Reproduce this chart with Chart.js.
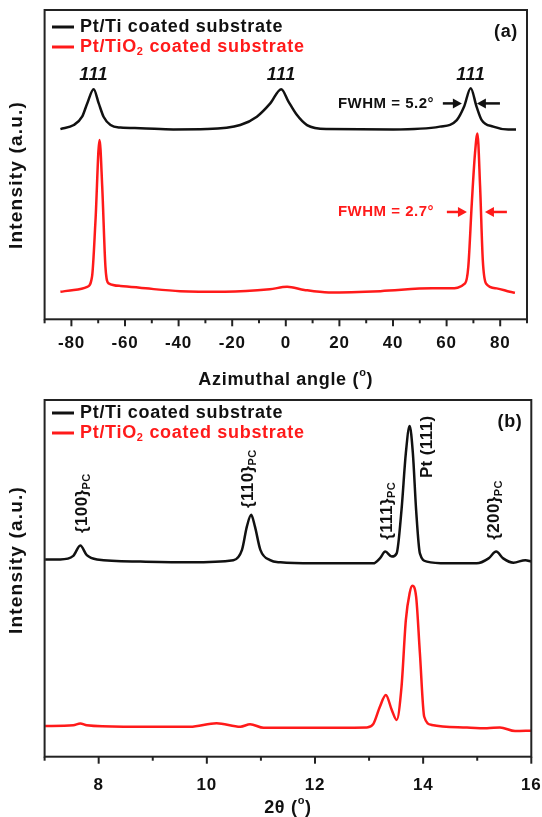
<!DOCTYPE html>
<html>
<head>
<meta charset="utf-8">
<script src="https://cdn.jsdelivr.net/npm/chart.js@4"></script>
<style>
  html, body { margin: 0; padding: 0; background: #fff; }
  #wrap { position: relative; width: 542px; height: 817px; overflow: hidden; }
  #chart-a { position: absolute; left: 0; top: 0; }
  #chart-b { position: absolute; left: 0; top: 395px; }
</style>
</head>
<body>
<div id="wrap">
  <canvas id="chart-a" width="542" height="395"></canvas>
  <canvas id="chart-b" width="542" height="422"></canvas>
</div>
<script>
// (a) azimuthal scans
const angleTi = [-84.1, -79.1, -76.0, -74.1, -71.7, -69.8, -68.0, -65.4, -61.7, -54.3,
  -42.0, -29.4, -17.0, -10.8, -5.8, -1.7, 1.0, 4.1, 7.9, 15.3,
  40.1, 57.5, 63.8, 66.5, 69.0, 71.2, 73.1, 77.4, 83.0, 85.9];
const intensityTi = [61.5, 62.8, 65.5, 69.8, 74.4, 69.8, 65.5, 62.8, 62.0, 61.8,
  61.4, 61.5, 62.8, 65.5, 69.8, 74.4, 70.4, 66.1, 62.8, 61.5,
  61.4, 62.3, 64.4, 68.7, 74.7, 68.7, 64.4, 62.3, 61.4, 61.4];
const angleTiO2 = [-84.1, -79.1, -74.1, -72.3, -71.0, -69.5, -68.5, -67.3, -66.1, -61.7,
  -52.3, -39.4, -22.7, -6.0, 0.5, 6.9, 16.0, 35.3, 54.6, 61.3,
  66.9, 68.1, 69.4, 70.6, 71.5, 72.5, 73.5, 74.7, 78.7, 83.6, 85.5];
const intensityTiO2 = [8.9, 9.5, 10.5, 13.8, 32.1, 58.0, 42.9, 17.0, 11.6, 10.8,
  10.0, 9.1, 8.9, 9.7, 10.5, 9.5, 8.7, 9.1, 10.0, 10.0,
  11.6, 17.0, 37.5, 53.7, 60.1, 42.9, 19.2, 11.6, 10.0, 8.9, 8.6];

// (b) 2theta scans
const twoThetaTi = [7.01, 7.29, 7.53, 7.66, 7.78, 7.97, 8.77, 9.69, 10.49, 10.65,
  10.74, 10.82, 10.89, 10.99, 11.17, 11.36, 11.97, 13.08, 13.20, 13.30,
  13.42, 13.51, 13.60, 13.68, 13.75, 13.81, 13.87, 13.94, 14.07, 14.44,
  14.99, 15.21, 15.35, 15.48, 15.67, 15.89, 16.0];
const xrdTi = [55.3, 55.3, 56.3, 59.2, 56.5, 55.3, 54.7, 54.5, 55.1, 58.0,
  64.5, 67.8, 64.5, 58.0, 55.1, 54.5, 54.2, 54.2, 55.6, 57.5,
  56.1, 57.0, 69.2, 85.1, 92.7, 85.1, 69.2, 57.0, 54.7, 54.2,
  54.2, 55.6, 57.5, 55.6, 54.4, 55.1, 54.7];
const twoThetaTiO2 = [7.01, 7.53, 7.66, 7.78, 8.46, 9.69, 10.18, 10.62, 10.80, 11.05,
  11.72, 12.96, 13.08, 13.20, 13.31, 13.42, 13.51, 13.60, 13.68, 13.75,
  13.80, 13.87, 13.94, 14.02, 14.16, 14.81, 15.18, 15.42, 15.70, 16.0];
const xrdTiO2 = [8.6, 8.8, 9.3, 8.8, 8.4, 8.4, 9.4, 8.4, 9.1, 8.1,
  8.1, 8.2, 9.2, 14.0, 17.3, 13.1, 10.3, 19.6, 38.3, 45.8,
  47.9, 44.9, 29.0, 11.2, 8.9, 8.2, 8.0, 8.2, 7.2, 7.3];

const seriesNames = ['Pt/Ti coated substrate', 'Pt/TiO_{2} coated substrate'];
const peakHkl = ['111', '111', '111'];
const peakAngle = [-71.7, -1.7, 69.0];
const xrdLabels = ['{100}_{PC}', '{110}_{PC}', '{111}_{PC}', 'Pt (111)', '{200}_{PC}'];
const xrdLabelPos = [7.69, 10.76, 13.33, 14.07, 15.31];
const xrdLabelBase = [62.7, 69.7, 60.8, 78.1, 60.8];

const BLACK = '#111111';
const RED = '#ff1a1a';
const FONT = '"Liberation Sans", Arial, sans-serif';
Chart.defaults.font.family = FONT;

// texto com _{sub} e ^{sup}
function parse(s) {
  const out = [];
  const re = /([_^])\{([^}]*)\}/g;
  let last = 0, m;
  while ((m = re.exec(s))) {
    if (m.index > last) out.push({ t: s.slice(last, m.index) });
    out.push({ t: m[2], sub: m[1] === '_', sup: m[1] === '^' });
    last = re.lastIndex;
  }
  if (last < s.length) out.push({ t: s.slice(last) });
  return out;
}
function fontFor(p, size, style) {
  const sz = (p.sub || p.sup) ? Math.round(size * 0.62) : size;
  return `${style} ${sz}px ${FONT}`;
}
function drawRich(ctx, str, x, y, size, color, align, style, ls = 0.7) {
  const parts = parse(str);
  ctx.letterSpacing = ls + 'px';
  let w = 0;
  parts.forEach(p => { ctx.font = fontFor(p, size, style); w += ctx.measureText(p.t).width; });
  let cx = align === 'center' ? x - w / 2 : align === 'right' ? x - w : x;
  ctx.fillStyle = color;
  ctx.textAlign = 'left';
  ctx.textBaseline = 'middle';
  parts.forEach(p => {
    ctx.font = fontFor(p, size, style);
    const dy = p.sub ? size * 0.3 : p.sup ? -size * 0.38 : 0;
    ctx.fillText(p.t, cx, y + dy);
    cx += ctx.measureText(p.t).width;
  });
  ctx.letterSpacing = '0px';
}
function arrow(ctx, x1, x2, y, color) {
  const dir = Math.sign(x2 - x1);
  ctx.strokeStyle = color; ctx.fillStyle = color; ctx.lineWidth = 2.5;
  ctx.beginPath(); ctx.moveTo(x1, y); ctx.lineTo(x2 - dir * 6, y); ctx.stroke();
  ctx.beginPath();
  ctx.moveTo(x2, y); ctx.lineTo(x2 - dir * 9, y - 5); ctx.lineTo(x2 - dir * 9, y + 5);
  ctx.closePath(); ctx.fill();
}

// moldura, ticks, legenda, títulos e anotações
const decor = {
  id: 'decor',
  beforeDraw(chart) { chart.ctx.letterSpacing = '0.8px'; },
  afterDraw(chart, args, o) {
    const { ctx, chartArea: a, scales: { x, y } } = chart;
    ctx.save();
    ctx.letterSpacing = '0px';
    ctx.strokeStyle = '#222'; ctx.lineWidth = 2;
    ctx.strokeRect(a.left, a.top, a.right - a.left, a.bottom - a.top);
    x.ticks.forEach(t => {
      const px = x.getPixelForValue(t.value);
      const len = t.label === '' ? 4 : 7;
      ctx.beginPath(); ctx.moveTo(px, a.bottom); ctx.lineTo(px, a.bottom + len); ctx.stroke();
    });

    chart.data.datasets.forEach((ds, i) => {
      const ly = o.legendY[i];
      ctx.strokeStyle = ds.borderColor; ctx.lineWidth = 3;
      ctx.beginPath(); ctx.moveTo(52, ly); ctx.lineTo(74, ly); ctx.stroke();
      drawRich(ctx, ds.label, 80, ly, 18, ds.borderColor, 'left', 'bold');
    });
    drawRich(ctx, o.tag.text, o.tag.x, o.tag.y, 18, BLACK, 'center', 'bold');

    ctx.save();
    ctx.translate(o.yTitle.x, o.yTitle.y); ctx.rotate(-Math.PI / 2);
    drawRich(ctx, o.yTitle.text, 0, 0, 19, BLACK, 'center', 'bold', 1.2);
    ctx.restore();
    drawRich(ctx, o.xTitle.text, (a.left + a.right) / 2, o.xTitle.y, 18, BLACK, 'center', 'bold');

    (o.labels || []).forEach(l => {
      const px = x.getPixelForValue(l.x), py = y.getPixelForValue(l.y);
      const style = l.italic ? 'italic bold' : 'bold';
      if (l.rotate) {
        ctx.save();
        ctx.translate(px, py); ctx.rotate(-Math.PI / 2);
        drawRich(ctx, l.text, 0, 0, l.size, l.color, 'left', style, 0.4);
        ctx.restore();
      } else {
        drawRich(ctx, l.text, px, py, l.size, l.color, l.align, style, 0.5);
      }
    });
    (o.arrows || []).forEach(r => {
      arrow(ctx, x.getPixelForValue(r.from), x.getPixelForValue(r.to), y.getPixelForValue(r.y), r.color);
    });
    ctx.restore();
  }
};

function toPoints(xs, ys) { return xs.map((v, i) => ({ x: v, y: ys[i] })); }

function lineSet(label, xs, ys, color) {
  return {
    label, data: toPoints(xs, ys), borderColor: color, borderWidth: 2.5,
    pointRadius: 0, fill: false, cubicInterpolationMode: 'monotone'
  };
}

function baseOptions({ xmin, xmax, step, major, gap, axisH, padTop, padRight, decorOpts }) {
  return {
    responsive: false, animation: false,
    layout: { padding: { top: padTop, right: padRight, left: 0, bottom: 0 } },
    plugins: { legend: { display: false }, tooltip: { enabled: false }, decor: decorOpts },
    scales: {
      x: {
        type: 'linear', min: xmin, max: xmax,
        grid: { display: false, drawTicks: true, tickLength: gap }, border: { display: false },
        ticks: {
          stepSize: step, autoSkip: false, maxRotation: 0, padding: 1, color: BLACK,
          font: { size: 17, weight: 'bold' },
          callback: v => (Math.round(v / major) * major === v ? v : '')
        },
        afterFit: s => { s.height = axisH; }
      },
      y: {
        min: 0, max: 100,
        grid: { display: false, drawTicks: false }, border: { display: false },
        ticks: { display: false },
        afterFit: s => { s.width = 44.6; }
      }
    }
  };
}

new Chart(document.getElementById('chart-a'), {
  type: 'line',
  data: { datasets: [
    lineSet(seriesNames[0], angleTi, intensityTi, BLACK),
    lineSet(seriesNames[1], angleTiO2, intensityTiO2, RED)
  ] },
  options: baseOptions({
    xmin: -90, xmax: 90, step: 10, major: 20, gap: 12.5, axisH: 75.7, padTop: 10, padRight: 15,
    decorOpts: {
      legendY: [27, 47],
      tag: { text: '(a)', x: 506, y: 32 },
      yTitle: { text: 'Intensity (a.u.)', x: 17, y: 175 },
      xTitle: { text: 'Azimuthal angle (^{o})', y: 380 },
      labels: peakHkl.map((t, i) => ({ text: t, x: peakAngle[i], y: 79, size: 18, italic: true, color: BLACK, align: 'center' }))
        .concat([
          { text: 'FWHM = 5.2°', x: 55.3, y: 69.8, size: 15, color: BLACK, align: 'right' },
          { text: 'FWHM = 2.7°', x: 55.3, y: 34.7, size: 15, color: RED, align: 'right' }
        ]),
      arrows: [
        { from: 58.6, to: 65.7, y: 69.8, color: BLACK },
        { from: 79.9, to: 71.3, y: 69.8, color: BLACK },
        { from: 60.1, to: 67.6, y: 34.7, color: RED },
        { from: 82.5, to: 74.3, y: 34.7, color: RED }
      ]
    }
  }),
  plugins: [decor]
});

new Chart(document.getElementById('chart-b'), {
  type: 'line',
  data: { datasets: [
    lineSet(seriesNames[0], twoThetaTi, xrdTi, BLACK),
    lineSet(seriesNames[1], twoThetaTiO2, xrdTiO2, RED)
  ] },
  options: baseOptions({
    xmin: 7, xmax: 16, step: 1, major: 2, gap: 17, axisH: 60.3, padTop: 5, padRight: 10.7,
    decorOpts: {
      legendY: [18, 38],
      tag: { text: '(b)', x: 510, y: 27 },
      yTitle: { text: 'Intensity (a.u.)', x: 17, y: 165 },
      xTitle: { text: '2θ (^{o})', y: 413 },
      labels: xrdLabels.map((t, i) => ({ text: t, x: xrdLabelPos[i], y: xrdLabelBase[i], size: 17, rotate: true, color: BLACK }))
    }
  }),
  plugins: [decor]
});
</script>
</body>
</html>
